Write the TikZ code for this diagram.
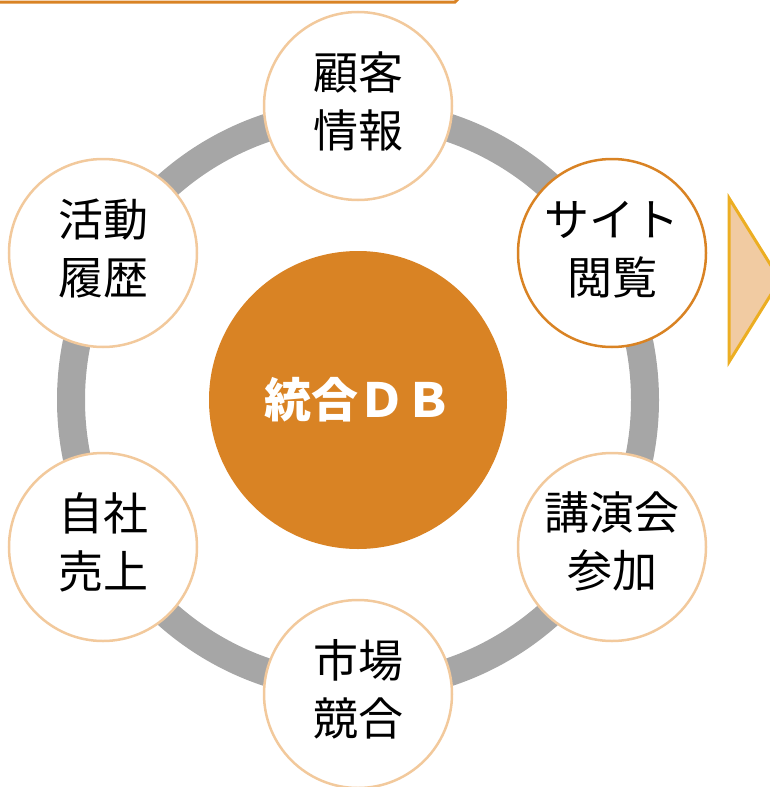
\documentclass[tikz,border=0pt]{standalone}
\usepackage{fontspec}
\setmainfont{Noto Sans CJK JP}
\definecolor{ringgray}{HTML}{A6A6A6}
\definecolor{darkorange}{HTML}{D98324}
\definecolor{lightorange}{HTML}{F2C99C}
\definecolor{trifill}{HTML}{F1CBA2}
\definecolor{trigold}{HTML}{ECAE22}
\tikzset{
  itembox/.style={circle, draw=lightorange, line width=2.5pt, fill=white,
    minimum size=188pt, inner sep=0pt},
  itemtext/.style={align=center, text=black, inner sep=0pt,
    font=\fontsize{45pt}{58pt}\selectfont},
  hubbox/.style={circle, fill=darkorange, minimum size=298pt, inner sep=0pt,
    text=white, font=\fontsize{47pt}{50pt}\selectfont\bfseries}
}
\begin{document}
\begin{tikzpicture}[x=1pt,y=-1pt]
\useasboundingbox (0,0) rectangle (769,787);
% banner edge at top
\draw[darkorange, line width=3pt] (-5,2) -- (455,2) -- (461,-4);
% ring
\coordinate (c) at (358,400);
\draw[ringgray, line width=28pt] (c) circle[radius=287pt];
% hub
\node[hubbox] (hub) at (c) {統合ＤＢ};
% items
\node[itembox] (kokyaku) at (358,106) {};
\node[itembox, draw=darkorange] (site) at (612,253) {};
\node[itembox] (koen) at (612,547) {};
\node[itembox] (shijo) at (358,694) {};
\node[itembox] (jisha) at (103,547) {};
\node[itembox] (katsudo) at (103,253) {};
\node[itemtext] (kokyakuT) at ([yshift=5pt]kokyaku.center) {顧客\\情報};
\node[itemtext] (siteT) at ([yshift=3pt]site.center) {サイト\\閲覧};
\node[itemtext] (koenT) at ([yshift=5pt]koen.center) {講演会\\参加};
\node[itemtext] (shijoT) at ([yshift=5pt]shijo.center) {市場\\競合};
\node[itemtext] (jishaT) at ([yshift=5pt]jisha.center) {自社\\売上};
\node[itemtext] (katsudoT) at ([yshift=5pt]katsudo.center) {活動\\履歴};
% arrow triangle
\draw[fill=trifill, draw=trigold, line width=3pt, line join=miter]
  (729,198) -- (780,280) -- (729,362) -- cycle;
\end{tikzpicture}
\end{document}
